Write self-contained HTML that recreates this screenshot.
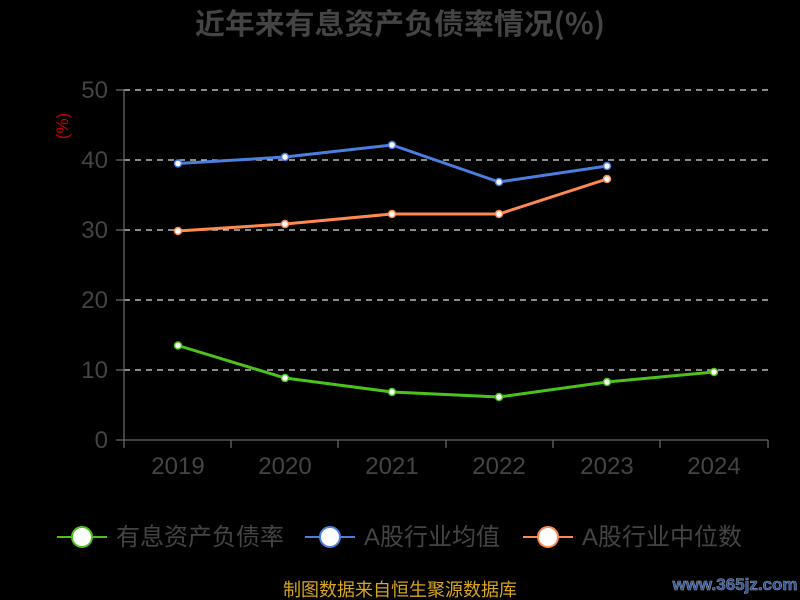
<!DOCTYPE html><html><head><meta charset="utf-8"><style>body{margin:0;background:#000}svg{display:block}text{font-family:"Liberation Sans","Noto Sans CJK SC",sans-serif}.cjk{font-family:"Noto Sans CJK SC",sans-serif}</style></head><body>
<svg width="800" height="600" viewBox="0 0 800 600">
<rect width="800" height="600" fill="#000"/>
<text x="400" y="34" text-anchor="middle" font-size="29" font-weight="bold" fill="#444" class="cjk" textLength="410" lengthAdjust="spacingAndGlyphs">近年来有息资产负债率情况(%)</text>
<g stroke="#ddd" stroke-dasharray="6,5" stroke-width="1.3">
<line x1="124" y1="90" x2="768" y2="90"/><line x1="124" y1="160" x2="768" y2="160"/><line x1="124" y1="230" x2="768" y2="230"/><line x1="124" y1="300" x2="768" y2="300"/><line x1="124" y1="370" x2="768" y2="370"/></g>
<g stroke="#666" stroke-width="1.3">
<line x1="124" y1="90" x2="124" y2="440"/><line x1="124" y1="440" x2="768" y2="440"/>
<line x1="116" y1="90" x2="124" y2="90"/><line x1="116" y1="160" x2="124" y2="160"/><line x1="116" y1="230" x2="124" y2="230"/><line x1="116" y1="300" x2="124" y2="300"/><line x1="116" y1="370" x2="124" y2="370"/><line x1="116" y1="440" x2="124" y2="440"/>
<line x1="124" y1="440" x2="124" y2="448"/><line x1="231" y1="440" x2="231" y2="448"/><line x1="338" y1="440" x2="338" y2="448"/><line x1="446" y1="440" x2="446" y2="448"/><line x1="553" y1="440" x2="553" y2="448"/><line x1="660" y1="440" x2="660" y2="448"/><line x1="768" y1="440" x2="768" y2="448"/></g>
<g fill="#444" font-size="24" text-anchor="end">
<text x="108" y="98">50</text><text x="108" y="168">40</text><text x="108" y="238">30</text><text x="108" y="308">20</text><text x="108" y="378">10</text><text x="108" y="448">0</text></g>
<g fill="#444" font-size="24" text-anchor="middle">
<text x="178" y="474">2019</text><text x="285" y="474">2020</text><text x="392" y="474">2021</text><text x="499" y="474">2022</text><text x="607" y="474">2023</text><text x="714" y="474">2024</text></g>
<text transform="translate(68,126) rotate(-90)" text-anchor="middle" font-size="17" fill="#c00">(%)</text>
<g fill="none" stroke-width="3">
<polyline stroke="#4a7fe0" points="178,163.5 285,157 392,145 499,182 607,166"/>
<polyline stroke="#ff8a50" points="178,231 285,224 392,214 499,214 607,179"/>
<polyline stroke="#4cc31d" points="178,345.5 285,378 392,392 499,397 607,382 714,372"/></g>
<g fill="#fff" stroke-width="1.5">
<g stroke="#4a7fe0"><circle cx="178" cy="163.5" r="3.5"/><circle cx="285" cy="157" r="3.5"/><circle cx="392" cy="145" r="3.5"/><circle cx="499" cy="182" r="3.5"/><circle cx="607" cy="166" r="3.5"/></g>
<g stroke="#ff8a50"><circle cx="178" cy="231" r="3.5"/><circle cx="285" cy="224" r="3.5"/><circle cx="392" cy="214" r="3.5"/><circle cx="499" cy="214" r="3.5"/><circle cx="607" cy="179" r="3.5"/></g>
<g stroke="#4cc31d"><circle cx="178" cy="345.5" r="3.5"/><circle cx="285" cy="378" r="3.5"/><circle cx="392" cy="392" r="3.5"/><circle cx="499" cy="397" r="3.5"/><circle cx="607" cy="382" r="3.5"/><circle cx="714" cy="372" r="3.5"/></g></g>
<g stroke-width="2" fill="#fff">
<line x1="57" y1="537" x2="107" y2="537" stroke="#4cc31d"/><circle cx="82" cy="537" r="10" stroke="#4cc31d"/>
<line x1="305" y1="537" x2="355" y2="537" stroke="#4a7fe0"/><circle cx="330" cy="537" r="10" stroke="#4a7fe0"/>
<line x1="523" y1="537" x2="573" y2="537" stroke="#ff8a50"/><circle cx="548" cy="537" r="10" stroke="#ff8a50"/></g>
<g fill="#444" font-size="24" class="cjk">
<text x="116" y="545">有息资产负债率</text><text x="364" y="545">A股行业均值</text><text x="582" y="545">A股行业中位数</text></g>
<text x="400" y="596" text-anchor="middle" font-size="18" fill="#d9a520" class="cjk">制图数据来自恒生聚源数据库</text>
<text x="735" y="590" text-anchor="middle" font-size="17" font-weight="bold" font-family="Liberation Serif" fill="#2a4f9a" stroke="#8899aa" stroke-width="0.6">www.365jz.com</text>
</svg></body></html>
